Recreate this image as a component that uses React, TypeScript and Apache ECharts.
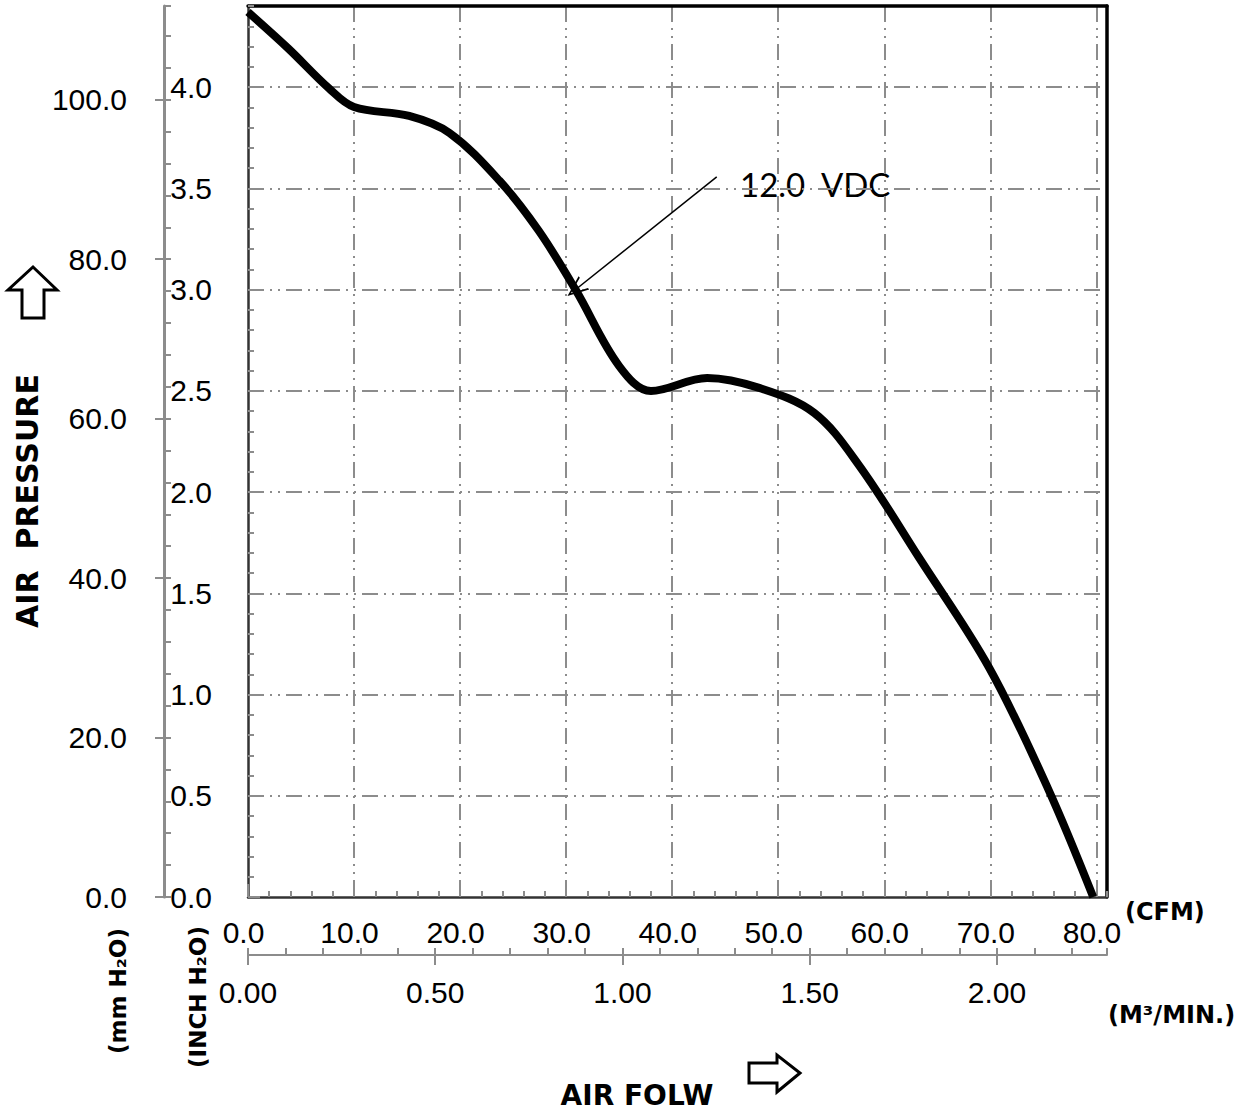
import React, { useEffect, useRef } from 'react';
import * as echarts from 'echarts';

// ---- data ----
const airflowCFM = [0, 3.8, 7.6, 10.0, 15.2, 19.0, 23.7, 27.4, 30.9, 35.0, 38.0, 43.3, 48.2, 53.4, 57.6, 63.3, 69.9, 75.5, 79.7];
const pressureInch = [4.37, 4.19, 3.995, 3.901, 3.857, 3.773, 3.538, 3.291, 2.998, 2.622, 2.499, 2.563, 2.514, 2.39, 2.133, 1.674, 1.131, 0.528, 0];

const cfmMax = 81;
const m3Max = 2.294;
const inchMax = 4.4;
const mmMax = 111.76;

const curveLabel = '12.0  VDC';
const arrowFrom = [44.2, 3.556];
const arrowTo = [30.9, 3.0];

const isMult = (v: number, step: number) => Math.abs(v / step - Math.round(v / step)) < 1e-6;

export default function App() {
  const ref = useRef<HTMLDivElement>(null);
  useEffect(() => {
    if (!ref.current) return;
    const chart = echarts.init(ref.current, undefined, { renderer: 'svg' });
    const dash = [16, 6, 2, 6, 2, 6];
    const grey = '#8c8c8c';
    const gridLine = { show: true, showMinLine: false, showMaxLine: false, lineStyle: { color: grey, width: 2, type: dash } };
    const labelFont = { fontFamily: 'Liberation Sans', fontSize: 30, color: '#000' };
    const titleFont = { fontFamily: 'DejaVu Sans', fontWeight: 'bold' as const, fill: '#000' };
    const tickStyle = { color: grey, width: 2 };
    const frame = { show: true, onZero: false, lineStyle: { color: '#000', width: 3.5 } };

    const data = airflowCFM.map((x, i) => [x, pressureInch[i]]);

    chart.setOption({
      animation: false,
      grid: {
        show: false,
        left: 248, top: 6, right: 141, bottom: 216, outerBoundsMode: 'none',
      },
      xAxis: [
        {
          type: 'value', position: 'bottom', min: 0, max: cfmMax, interval: 10,
          axisLine: { show: true, onZero: false, lineStyle: { color: '#333', width: 2.5 } },
          axisTick: { show: true, inside: true, length: 13, lineStyle: tickStyle },
          axisLabel: { ...labelFont, margin: 20, showMinLabel: true, showMaxLabel: false, padding: [0, 9, 0, 0],
            formatter: (v: number) => (isMult(v, 10) ? v.toFixed(1) : '') },
          splitLine: gridLine,
        },
        {
          type: 'value', position: 'bottom', min: 0, max: cfmMax, interval: 2,
          axisLine: { show: false, onZero: false },
          axisTick: { show: true, inside: true, length: 6, lineStyle: tickStyle },
          axisLabel: { show: false }, splitLine: { show: false },
        },
        {
          type: 'value', position: 'bottom', offset: 58, min: 0, max: m3Max, interval: 0.1,
          axisLine: { show: true, onZero: false, lineStyle: { color: grey, width: 2 } },
          axisTick: { show: true, inside: true, length: 7, lineStyle: tickStyle },
          axisLabel: { show: false }, splitLine: { show: false },
        },
        {
          type: 'value', position: 'bottom', offset: 58, min: 0, max: m3Max, interval: 0.5,
          axisLine: { show: false, onZero: false },
          axisTick: { show: true, inside: false, length: 10, lineStyle: tickStyle },
          axisLabel: { ...labelFont, margin: 22, showMinLabel: true, showMaxLabel: false,
            formatter: (v: number) => (isMult(v, 0.5) ? v.toFixed(2) : '') },
          splitLine: { show: false },
        },
        {
          type: 'value', position: 'top', min: 0, max: cfmMax,
          axisLine: frame, axisTick: { show: false }, axisLabel: { show: false }, splitLine: { show: false },
        },
      ],
      yAxis: [
        {
          type: 'value', position: 'left', min: 0, max: inchMax, interval: 0.5,
          axisLine: { show: true, onZero: false, lineStyle: { color: '#333', width: 2.5 } },
          axisTick: { show: true, inside: true, length: 12, lineStyle: tickStyle },
          axisLabel: { ...labelFont, margin: 36, showMinLabel: true, showMaxLabel: false,
            formatter: (v: number) => (isMult(v, 0.5) ? v.toFixed(1) : '') },
          splitLine: gridLine,
        },
        {
          type: 'value', position: 'left', min: 0, max: inchMax, interval: 0.1,
          axisLine: { show: false, onZero: false },
          axisTick: { show: true, inside: true, length: 6, lineStyle: tickStyle },
          axisLabel: { show: false }, splitLine: { show: false },
        },
        {
          type: 'value', position: 'left', offset: 84, min: 0, max: mmMax, interval: 4,
          axisLine: { show: true, onZero: false, lineStyle: { color: grey, width: 3 } },
          axisTick: { show: true, inside: true, length: 7, lineStyle: tickStyle },
          axisLabel: { show: false }, splitLine: { show: false },
        },
        {
          type: 'value', position: 'left', offset: 84, min: 0, max: mmMax, interval: 20,
          axisLine: { show: false, onZero: false },
          axisTick: { show: true, inside: false, length: 9, lineStyle: tickStyle },
          axisLabel: { ...labelFont, margin: 37, showMinLabel: true, showMaxLabel: false,
            formatter: (v: number) => (isMult(v, 20) ? v.toFixed(1) : '') },
          splitLine: { show: false },
        },
        {
          type: 'value', position: 'right', min: 0, max: inchMax,
          axisLine: frame, axisTick: { show: false }, axisLabel: { show: false }, splitLine: { show: false },
        },
      ],
      series: [
        {
          type: 'line', xAxisIndex: 0, yAxisIndex: 0, data, smooth: 0.35,
          showSymbol: false, symbol: 'none',
          lineStyle: { color: '#000', width: 8 },
          markLine: {
            silent: true, animation: false,
            symbol: ['none', 'path://M0,16 L6,0 L12,16 L10.6,16 L6,3.4 L1.4,16 Z'],
            symbolSize: [17, 21],
            lineStyle: { color: '#000', width: 1.5, type: 'solid' },
            label: { show: false },
            data: [[{ coord: arrowFrom }, { coord: arrowTo }]],
          },
        },
      ],
      graphic: [
        { type: 'text', x: 740, y: 184, style: { text: curveLabel, fontFamily: 'Lato', fontSize: 33, fill: '#000', align: 'left', verticalAlign: 'middle' } },
        { type: 'text', x: 27, y: 501, rotation: Math.PI / 2, style: { ...titleFont, text: 'AIR  PRESSURE', fontSize: 30, align: 'center', verticalAlign: 'middle' } },
        { type: 'text', x: 118, y: 991, rotation: Math.PI / 2, style: { ...titleFont, text: '(mm H₂O)', fontSize: 23, align: 'center', verticalAlign: 'middle' } },
        { type: 'text', x: 198, y: 997, rotation: Math.PI / 2, style: { ...titleFont, text: '(INCH H₂O)', fontSize: 23, align: 'center', verticalAlign: 'middle' } },
        { type: 'text', x: 1125, y: 912, style: { ...titleFont, text: '(CFM)', fontSize: 24, align: 'left', verticalAlign: 'middle' } },
        { type: 'text', x: 1108, y: 1015, style: { ...titleFont, text: '(M³/MIN.)', fontSize: 24, align: 'left', verticalAlign: 'middle' } },
        { type: 'text', x: 637, y: 1095, style: { ...titleFont, text: 'AIR FOLW', fontSize: 28, align: 'center', verticalAlign: 'middle' } },
        { type: 'polygon', shape: { points: [[33, 267], [57, 290], [44, 290], [44, 318], [22, 318], [22, 290], [8, 290]] }, style: { fill: 'none', stroke: '#000', lineWidth: 3 } },
        { type: 'polygon', shape: { points: [[800, 1073], [777, 1092], [777, 1083], [749, 1083], [749, 1063], [777, 1063], [777, 1055]] }, style: { fill: 'none', stroke: '#000', lineWidth: 3 } },
      ],
    });
    return () => chart.dispose();
  }, []);
  return <div ref={ref} style={{ position: 'absolute', left: 0, top: 0, width: 1248, height: 1113 }} />;
}
